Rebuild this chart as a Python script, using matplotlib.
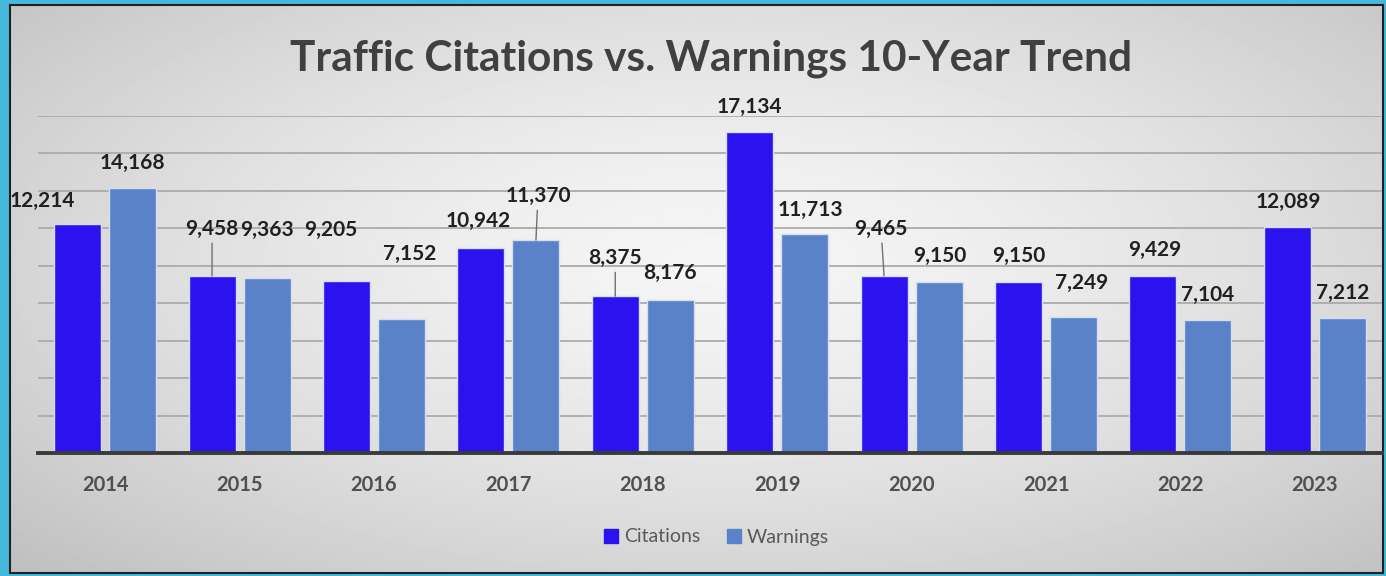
import numpy as np
import matplotlib
matplotlib.use("Agg")
import matplotlib.pyplot as plt
from matplotlib.patches import Patch

# data
years = ["2014", "2015", "2016", "2017", "2018", "2019", "2020", "2021", "2022", "2023"]
citations = [12214, 9458, 9205, 10942, 8375, 17134, 9465, 9150, 9429, 12089]
warnings = [14168, 9363, 7152, 11370, 8176, 11713, 9150, 7249, 7104, 7212]

# label placement (pixel offsets from bar top), leader line flags
cit_off = [(-35, 23), (0, 47), (-16, 51), (-3, 27), (0, 38), (0, 25), (-3, 47), (0, 26), (2, 26), (1, 25)]
war_off = [(0, 25), (0, 48), (8, 65), (2, 44), (0, 27), (6, 24), (1, 26), (8, 34), (0, 25), (0, 25)]
cit_lead = [False, True, False, False, True, False, True, False, False, False]
war_lead = [False, False, False, True, False, False, False, False, False, False]

c_cit = "#2C12EE"
c_war = "#5A82C8"
txt = "#404040"

plt.rcParams['font.family'] = ['Lato', 'DejaVu Sans']

fig = plt.figure(figsize=(13.86, 5.76), dpi=100)
fig.patch.set_facecolor("#45B9DC")

# background panel with radial gradient
bg = fig.add_axes([10 / 1386, 3 / 576, 1373 / 1386, 568 / 576])
yy, xx = np.mgrid[0:1:300j, 0:1:700j]
d = np.sqrt(((xx - 0.52) / 0.75) ** 2 + ((yy - 0.45) / 0.8) ** 2)
shade = np.clip(0.96 - 0.22 * d ** 1.5, 0.75, 0.96)
bg.imshow(shade, cmap="gray", vmin=0, vmax=1, aspect="auto", extent=[0, 1, 0, 1])
bg.set_xticks([])
bg.set_yticks([])
for s in bg.spines.values():
    s.set_color("#202020")
    s.set_linewidth(1.5)

ax = fig.add_axes([38 / 1386, 123 / 576, 1344 / 1386, 337 / 576])
ax.set_facecolor("none")

x = np.arange(len(years))
w = 0.35
off = 0.205
bc = ax.bar(x - off, citations, w, color=c_cit, edgecolor="#d5def0", linewidth=1.0, label="Citations", zorder=3)
bw = ax.bar(x + off, warnings, w, color=c_war, edgecolor="#d5def0", linewidth=1.0, label="Warnings", zorder=3)

ax.set_xlim(-0.5, 9.5)
ax.set_ylim(0, 18000)
ax.set_yticks(np.arange(0, 18001, 2000))
ax.yaxis.grid(True, color="#ababab", linewidth=1.3)
ax.set_axisbelow(True)
ax.tick_params(axis="y", length=0, labelleft=False)
ax.tick_params(axis="x", length=0, pad=16)
ax.set_xticks(x)
ax.set_xticklabels(years, fontsize=14.5, fontweight="bold", color="#505050")
for k in ["left", "right", "top"]:
    ax.spines[k].set_visible(False)
ax.spines["bottom"].set_color("#3a3a3a")
ax.spines["bottom"].set_linewidth(2.8)
ax.spines["bottom"].set_zorder(4)


def put_labels(bars, vals, offs, leads):
    for b, v, (dx, dy), ld in zip(bars, vals, offs, leads):
        xc = b.get_x() + b.get_width() / 2
        ap = None
        if ld:
            ap = dict(arrowstyle="-", color="#707070", lw=1, shrinkA=1, shrinkB=0)
        ax.annotate(f"{v:,}", xy=(xc, v), xytext=(dx, dy), textcoords="offset pixels",
                    ha="center", va="center", fontsize=15, fontweight="bold",
                    color="#202020", arrowprops=ap, zorder=5)


put_labels(bc, citations, cit_off, cit_lead)
put_labels(bw, warnings, war_off, war_lead)

fig.text(0.513, 1 - 59 / 576, "Traffic Citations vs. Warnings 10-Year Trend",
         ha="center", va="center", fontsize=30.5, fontweight="bold", color=txt)

handles = [Patch(color=c_cit, label="Citations"), Patch(color=c_war, label="Warnings")]
fig.legend(handles=handles, loc="center", bbox_to_anchor=(0.517, 1 - 537 / 576), ncol=2,
           frameon=False, fontsize=14, labelcolor="#595959", handlelength=0.7, handleheight=0.7,
           handletextpad=0.3, columnspacing=1.4)

fig.savefig("out.png", dpi=100, facecolor=fig.get_facecolor())
